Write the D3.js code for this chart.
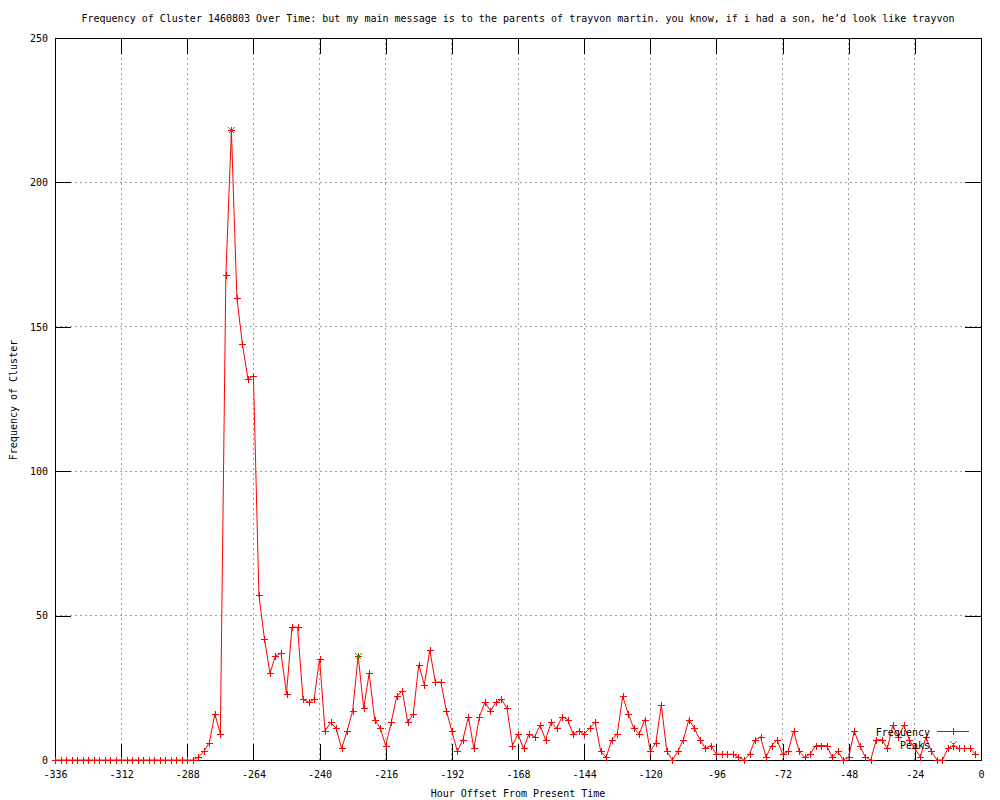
<!DOCTYPE html>
<html>
<head>
<meta charset="utf-8">
<script src="https://cdn.jsdelivr.net/npm/d3@7"></script>
<style>
  html, body { margin: 0; padding: 0; background: #fff; }
  svg { display: block; }
  text { font-family: "DejaVu Sans Mono", "Liberation Mono", monospace; font-size: 10px; fill: #000; }
</style>
</head>
<body>
<svg id="chart" width="1000" height="800"></svg>
<script>
const titleText = "Frequency of Cluster 1460803 Over Time: but my main message is to the parents of trayvon martin. you know, if i had a son, he\u2019d look like trayvon";
const xLabel = "Hour Offset From Present Time";
const yLabel = "Frequency of Cluster";

const hours = [
  -336,-334,-332,-330,-328,-326,-324,-322,-320,-318,-316,-314,-312,-310,-308,-306,-304,-302,-300,-298,
  -296,-294,-292,-290,-288,-286,-284,-282,-280,-278,-276,-274,-272,-270,-268,-266,-264,-262,-260,-258,
  -256,-254,-252,-250,-248,-246,-244,-242,-240,-238,-236,-234,-232,-230,-228,-226,-224,-222,-220,-218,
  -216,-214,-212,-210,-208,-206,-204,-202,-200,-198,-196,-194,-192,-190,-188,-186,-184,-182,-180,-178,
  -176,-174,-172,-170,-168,-166,-164,-162,-160,-158,-156,-154,-152,-150,-148,-146,-144,-142,-140,-138,
  -136,-134,-132,-130,-128,-126,-124,-122,-120,-118,-116,-114,-112,-110,-108,-106,-104,-102,-100,-98,
  -96,-94,-92,-90,-88,-86,-84,-82,-80,-78,-76,-74,-72,-70,-68,-66,-64,-62,-60,-58,
  -56,-54,-52,-50,-48,-46,-44,-42,-40,-38,-36,-34,-32,-30,-28,-26,-24,-22,-20,-18,
  -16,-14,-12,-10,-8,-6,-4,-2
];
const frequency = [
  0,0,0,0,0,0,0,0,0,0,0,0,0,0,0,0,0,0,0,0,
  0,0,0,0,0,0,1,3,6,16,9,168,218,160,144,132,133,57,42,30,
  36,37,23,46,46,21,20,21,35,10,13,11,4,10,17,36,18,30,14,11,
  5,13,22,24,13,16,33,26,38,27,27,17,10,3,7,15,4,15,20,17,
  20,21,18,5,9,4,9,8,12,7,13,11,15,14,9,10,9,11,13,3,
  1,7,9,22,16,11,9,14,3,6,19,3,0,3,7,14,11,7,4,5,
  2,2,2,2,1,0,2,7,8,1,5,7,2,3,10,3,1,2,5,5,
  5,1,3,0,1,10,5,1,0,7,7,4,12,8,12,7,4,1,8,3,
  0,0,4,5,4,4,4,2
];
const peakHours = [-272, -226];
const peakValues = [218, 36];

const xTicks = [-336,-312,-288,-264,-240,-216,-192,-168,-144,-120,-96,-72,-48,-24,0];
const yTicks = [0,50,100,150,200,250];
const legendLabels = ["Frequency", "Peaks"];

const svg = d3.select("#chart");
const L = 55, R = 981, T = 38, B = 760;
const x = d3.scaleLinear().domain([-336, 0]).range([L, R]);
const y = d3.scaleLinear().domain([0, 250]).range([B, T]);
const red = "#ff0000", green = "#00c000";

// grid
const grid = svg.append("g").attr("shape-rendering", "crispEdges")
  .attr("stroke", "#a0a0a0").attr("stroke-dasharray", "2,3").attr("stroke-width", 1);
xTicks.filter(d => d > -336 && d < 0).forEach(d => {
  grid.append("line").attr("x1", x(d)).attr("x2", x(d)).attr("y1", T).attr("y2", B);
});
yTicks.filter(d => d > 0 && d < 250).forEach(d => {
  grid.append("line").attr("x1", L).attr("x2", R).attr("y1", y(d)).attr("y2", y(d));
});

// axes with inward ticks (bottom/top/left/right)
const tickLen = 16;
const axB = svg.append("g").attr("transform", `translate(0,${B})`)
  .call(d3.axisBottom(x).tickValues(xTicks).tickSizeInner(-tickLen).tickSizeOuter(0).tickPadding(6).tickFormat(d => String(d)));
const axT = svg.append("g").attr("transform", `translate(0,${T})`)
  .call(d3.axisTop(x).tickValues(xTicks).tickSizeInner(-tickLen).tickSizeOuter(0).tickFormat(""));
const axL = svg.append("g").attr("transform", `translate(${L},0)`)
  .call(d3.axisLeft(y).tickValues(yTicks).tickSizeInner(-tickLen).tickSizeOuter(0).tickPadding(7).tickFormat(d => String(d)));
const axR = svg.append("g").attr("transform", `translate(${R},0)`)
  .call(d3.axisRight(y).tickValues(yTicks).tickSizeInner(-tickLen).tickSizeOuter(0).tickFormat(""));
[axB, axT, axL, axR].forEach(a => {
  a.attr("shape-rendering", "crispEdges");
  a.select(".domain").remove();
  a.selectAll("line").attr("stroke", "#000");
  a.selectAll("text").attr("font-family", null).attr("font-size", null).style("fill", "#000");
});
axB.selectAll("text").attr("dy", null).attr("y", 18).attr("text-anchor", "middle");
axL.selectAll("text").attr("dy", "0.32em").attr("x", -7).attr("text-anchor", "end");

// border
svg.append("rect").attr("x", L).attr("y", T).attr("width", R - L).attr("height", B - T)
  .attr("fill", "none").attr("stroke", "#000").attr("shape-rendering", "crispEdges");

// data line
const pts = hours.map((h, i) => [h, frequency[i]]);
svg.append("path").datum(pts)
  .attr("fill", "none").attr("stroke", red).attr("stroke-width", 1)
  .attr("d", d3.line().x(d => x(d[0])).y(d => y(d[1])));

// plus markers
const plus = (g, cx, cy, s, color) => {
  g.append("path").attr("d", `M${cx - s},${cy}H${cx + s}M${cx},${cy - s}V${cy + s}`)
    .attr("stroke", color).attr("stroke-width", 1).attr("fill", "none");
};
const cross = (g, cx, cy, s, color) => {
  g.append("path").attr("d", `M${cx - s},${cy - s}L${cx + s},${cy + s}M${cx - s},${cy + s}L${cx + s},${cy - s}`)
    .attr("stroke", color).attr("stroke-width", 1).attr("fill", "none");
};
const mk = svg.append("g").attr("shape-rendering", "crispEdges");
pts.forEach(d => plus(mk, Math.round(x(d[0])) + 0.5, Math.round(y(d[1])) + 0.5, 3.5, red));

// peaks
const pk = svg.append("g").attr("shape-rendering", "crispEdges");
peakHours.forEach((h, i) => cross(pk, Math.round(x(h)) + 0.5, Math.round(y(peakValues[i])) + 0.5, 3, green));

// legend
const lg = svg.append("g").attr("shape-rendering", "crispEdges");
lg.append("text").attr("x", 930).attr("y", 736).attr("text-anchor", "end").text(legendLabels[0]);
lg.append("text").attr("x", 930).attr("y", 749).attr("text-anchor", "end").text(legendLabels[1]);
lg.append("path").attr("d", "M937,731.5H969")
  .attr("stroke", red).attr("stroke-width", 1).attr("fill", "none");
plus(lg, 953.5, 731.5, 3.5, red);
cross(lg, 953.5, 744.5, 3, green);

// titles
svg.append("text").attr("x", (L + R) / 2).attr("y", 22).attr("text-anchor", "middle").text(titleText);
svg.append("text").attr("x", (L + R) / 2).attr("y", 797).attr("text-anchor", "middle").text(xLabel);
svg.append("text").attr("transform", "translate(17,400) rotate(-90)").attr("text-anchor", "middle").text(yLabel);
</script>
</body>
</html>
